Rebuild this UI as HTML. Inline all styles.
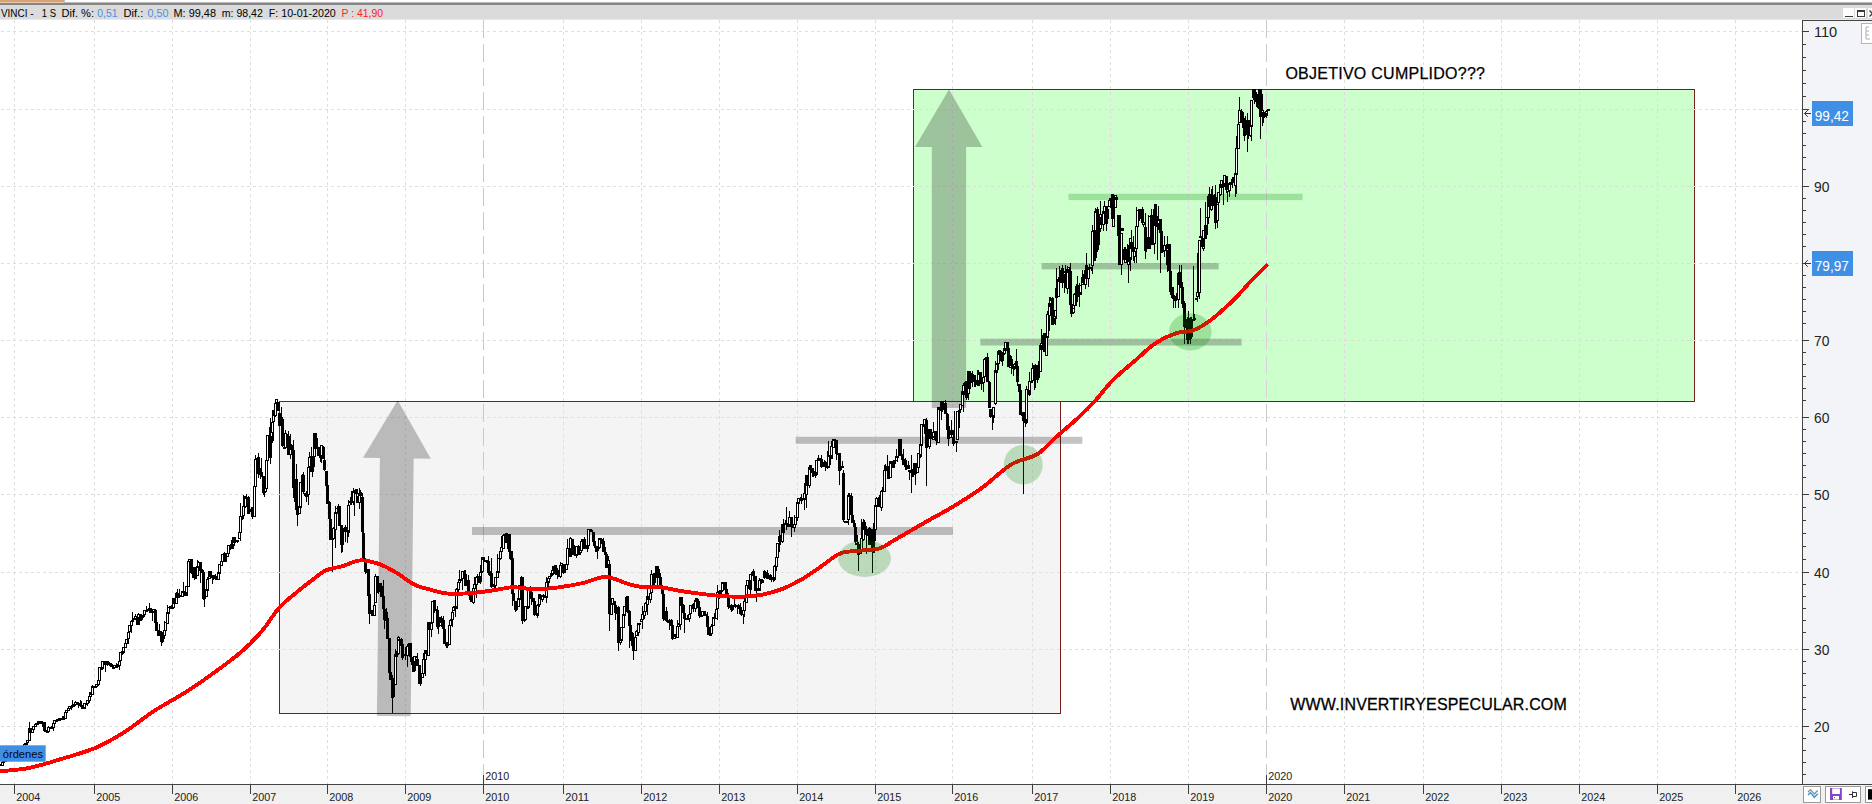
<!DOCTYPE html>
<html><head><meta charset="utf-8"><title>VINCI</title>
<style>
html,body{margin:0;padding:0;background:#fff;}
body{width:1872px;height:804px;overflow:hidden;font-family:"Liberation Sans",sans-serif;}
svg{display:block;position:absolute;left:0;top:0;}
text{white-space:pre;}
</style></head><body>
<svg width="1872" height="804" viewBox="0 0 1872 804" shape-rendering="auto">
<defs>
<clipPath id="cg"><rect x="914" y="90" width="780" height="311"/></clipPath>
<clipPath id="cp"><rect x="0" y="20" width="1802" height="764"/></clipPath>
<linearGradient id="tg" x1="0" y1="0" x2="0" y2="1"><stop offset="0" stop-color="#8c8c8c"/><stop offset="1" stop-color="#a9a9a9"/></linearGradient>
</defs>
<rect x="0" y="0" width="1872" height="804" fill="#ffffff"/>
<rect x="0" y="0" width="1872" height="2" fill="#ffffff"/>
<rect x="0" y="0" width="64" height="2.6" fill="#d9a273"/>
<rect x="64" y="0" width="1" height="2" fill="#c0c0c0"/>
<rect x="64" y="2" width="1872" height="1" fill="#b9b9b9"/>
<rect x="0" y="3" width="1872" height="2" fill="#868686"/>
<rect x="0" y="5" width="1872" height="14.6" fill="#dbdbdb"/>
<rect x="279.5" y="401.5" width="781" height="312" fill="#f4f4f4" stroke="#771d1d" stroke-width="1" shape-rendering="crispEdges"/>
<rect x="913.5" y="89.5" width="781" height="312" fill="#ccffcc" stroke="#771d1d" stroke-width="1" shape-rendering="crispEdges"/>
<g fill="none" shape-rendering="crispEdges"><path d="M14.5 20V784M94.5 20V784M172.5 20V784M250.5 20V784M327.5 20V784M405.5 20V784M563.5 20V784M641.5 20V784M719.5 20V784M797.5 20V784M875.5 20V784M952.5 20V784M1032.5 20V784M1110.5 20V784M1188.5 20V784M1344.5 20V784M1423.5 20V784M1501.5 20V784M1579.5 20V784M1657.5 20V784M1735.5 20V784" stroke="#dedede" stroke-width="1" stroke-dasharray="3 3"/><path d="M0 31.5H1802M0 109.5H1802M0 186.5H1802M0 263.5H1802M0 340.5H1802M0 417.5H1802M0 494.5H1802M0 572.5H1802M0 649.5H1802M0 726.5H1802" stroke="#dedede" stroke-width="1" stroke-dasharray="3 3" stroke-dashoffset="5"/><path d="M483.5 20V775M1266.5 20V775" stroke="#cacaca" stroke-width="1" stroke-dasharray="17.6 6.4" stroke-dashoffset="0"/></g>
<g fill="none" shape-rendering="crispEdges" clip-path="url(#cg)"><path d="M14.5 20V784M94.5 20V784M172.5 20V784M250.5 20V784M327.5 20V784M405.5 20V784M563.5 20V784M641.5 20V784M719.5 20V784M797.5 20V784M875.5 20V784M952.5 20V784M1032.5 20V784M1110.5 20V784M1188.5 20V784M1344.5 20V784M1423.5 20V784M1501.5 20V784M1579.5 20V784M1657.5 20V784M1735.5 20V784" stroke="#e3d9e3" stroke-width="1" stroke-dasharray="3 3"/><path d="M0 31.5H1802M0 109.5H1802M0 186.5H1802M0 263.5H1802M0 340.5H1802M0 417.5H1802M0 494.5H1802M0 572.5H1802M0 649.5H1802M0 726.5H1802" stroke="#e3d9e3" stroke-width="1" stroke-dasharray="3 3" stroke-dashoffset="5"/><path d="M483.5 20V775M1266.5 20V775" stroke="#ddd0dd" stroke-width="1" stroke-dasharray="17.6 6.4" stroke-dashoffset="0"/></g>
<g clip-path="url(#cp)">
<polygon points="397.7,400.3 430.8,458.7 413.7,458.5 410.7,716.2 376.9,716 379.9,458 363,457.7" fill="rgba(0,0,0,0.237)"/>
<polygon points="949,89.5 982.4,147 966.1,147 966.1,408 931.8,408 931.8,147 915,147" fill="rgba(0,0,0,0.237)"/>
<rect x="472" y="527" width="481" height="8" fill="rgba(0,0,0,0.237)"/>
<rect x="795.7" y="436.8" width="286.6" height="7" fill="rgba(0,0,0,0.237)"/>
<rect x="980.4" y="338.7" width="261.2" height="6.8" fill="rgba(0,0,0,0.237)"/>
<rect x="1041.6" y="263" width="177" height="6.4" fill="rgba(0,0,0,0.237)"/>
<rect x="1068.4" y="193.7" width="234.3" height="6.4" fill="rgba(0,128,0,0.23)"/>
</g>
<g clip-path="url(#cp)">
<g shape-rendering="crispEdges">
<path d="M0.5 764.2V765.4M2.5 761.9V765.4M3.5 760.7V762.4M5.5 759.7V761.5M6.5 758V760.2M8.5 757.4V759M9.5 756.5V758.1M11.5 755V757.4M12.5 753.2V756.4M14.5 752.3V755.1M15.5 751.5V753.1M17.5 750.2V752.5M18.5 749.3V752.1M20.5 747.6V750M21.5 746.7V748.9M23.5 745.8V747.6M24.5 743V746.6M26.5 741.8V744.9M27.5 739.7V743.3M29.5 722V740.7M30.5 728.2V732.8M32.5 729.3V732.6M33.5 725.9V729.3M35.5 724.3V726.8M36.5 723V724.4M38.5 721.4V725.4M39.5 721.7V722.3M41.5 720.7V723M42.5 722.4V726.6M44.5 722.2V731M45.5 729.7V731.8M47.5 731.1V732M48.5 725.6V731.9M50.5 727.4V728.6M51.5 725.6V728.9M53.5 722.8V730.5M54.5 720.3V723.7M56.5 719.8V721.3M57.5 719.2V720.8M59.5 717.6V720.4M60.5 717.9V720.1M62.5 716V720M63.5 716.2V718.8M65.5 711.2V719.4M66.5 709.9V712.8M68.5 707.8V710.8M69.5 706.5V710.1M71.5 705.2V710M72.5 700V707.2M74.5 703.9V706.5M75.5 701.4V705.2M77.5 702.1V704.4M78.5 703.2V708.4M80.5 699.9V707.1M81.5 700.7V709.2M83.5 704.2V709.3M84.5 703.4V709M86.5 703.1V704.2M87.5 700.4V705.7M89.5 691.9V703.4M90.5 692.4V697M92.5 685V695.3M93.5 686.3V690.1M95.5 685.7V687.2M96.5 684.5V686.7M98.5 680.2V685.7M99.5 667.4V680.7M101.5 666.4V670.3M102.5 660.8V670.4M104.5 661.1V661.8M105.5 661V672M107.5 660.8V665.7M108.5 660.8V665.4M110.5 663.1V665.3M111.5 662.7V667.1M113.5 665.1V667.8M114.5 665.2V668.7M116.5 663.2V668M117.5 663.9V667.7M119.5 656.9V669.6M120.5 651.9V661.3M122.5 650.2V654.5M123.5 647.3V652.5M125.5 643.2V648.3M126.5 638.8V646.1M128.5 632.6V644.3M129.5 624.6V632.2M131.5 621.5V632.7M132.5 612.2V621.7M134.5 617.7V620M135.5 613.9V619.4M137.5 616V624.9M138.5 612.7V624.6M140.5 614.3V620.7M141.5 615.9V620.2M143.5 609.5V617.8M144.5 609.6V615M146.5 605.7V611.4M147.5 608.7V609.7M149.5 603.2V610.9M150.5 608.6V612.9M152.5 610.1V620.5M153.5 608.8V612M155.5 609.4V623.3M156.5 621.2V631.3M158.5 629.6V636M159.5 623.8V636.1M161.5 631V646M162.5 633.5V643.2M164.5 620.6V639M165.5 622.5V630.5M167.5 604.7V624.3M168.5 606.6V613.3M170.5 606.5V607.4M171.5 605.2V608.7M173.5 598V608.7M174.5 598.5V603.5M176.5 592.3V603.6M177.5 589.1V597.7M179.5 588.5V597.8M180.5 594.8V596.8M182.5 590.9V596.3M183.5 582.1V592.8M185.5 591.3V595.7M186.5 585.7V596.3M188.5 562.8V587.1M189.5 561.3V561.5M191.5 559.4V574M192.5 564.7V577.8M194.5 566.9V579.8M195.5 574.8V578.3M197.5 560.2V575.7M198.5 560.5V567.3M200.5 562.8V583.1M201.5 568.9V572.8M203.5 570.3V599.5M204.5 596.1V606.5M206.5 589.1V596.6M207.5 577.1V590.7M209.5 570.8V579.2M210.5 571V576.7M212.5 576.1V583.8M213.5 575.4V579.6M215.5 574.4V580.4M216.5 575.9V580.2M218.5 563.5V580.1M219.5 564.2V578.4M221.5 560.3V565.7M222.5 553.8V562.3M224.5 551.5V556M225.5 553.8V562.4M227.5 552.2V557M228.5 545.5V554.4M230.5 544.4V549.9M231.5 540.1V548.6M233.5 537.3V548.5M234.5 537.5V545.7M236.5 540.6V541.5M237.5 539.9V542.7M239.5 531.9V539.3M240.5 502.6V540.9M242.5 514.8V519.9M243.5 494.7V517.5M245.5 496.1V507.7M246.5 494.4V502.3M248.5 495.9V513.6M249.5 508.9V512.9M251.5 507.3V512.6M252.5 507.2V519.4M254.5 480.8V516.4M255.5 455.1V491.9M257.5 457.3V460.9M258.5 453.3V477.6M260.5 468V478.9M261.5 457.6V477M263.5 476.3V495.2M264.5 491V496.7M266.5 459.2V491.5M267.5 435.6V476.3M269.5 427V456.5M270.5 418V463.5M272.5 409.5V442.7M273.5 409.5V440.9M275.5 400.3V416.5M276.5 399V408.4M278.5 405V410.5M279.5 412.5V425.6M281.5 406.5V424.4M282.5 416.7V447.2M284.5 445.6V448.5M285.5 430.4V447.4M287.5 434.2V436.7M288.5 431.3V455M290.5 434.2V458.5M291.5 444.1V452.8M293.5 440.4V497.7M294.5 479.1V501.9M296.5 463.7V511.7M297.5 507.7V525.5M299.5 506.1V513.7M300.5 481.7V508.2M302.5 474.2V489.9M303.5 472V493.7M305.5 493.3V495.7M306.5 491V502.3M308.5 467V505.2M309.5 451.6V474.9M311.5 447.3V472.3M312.5 455.8V477.4M314.5 438V466.9M315.5 435V455.6M317.5 438V451.9M318.5 446.9V455.4M320.5 450.7V461.6M321.5 445.5V463.3M323.5 445.6V459M324.5 452.7V470.8M326.5 471.5V486.8M327.5 485.6V503.7M329.5 501.1V518.5M330.5 517.8V540.2M332.5 537.9V572M333.5 527.4V539.7M335.5 506.2V548M336.5 507.7V524.7M338.5 503.5V509M339.5 505.9V526.1M341.5 524.7V552.6M342.5 524.8V551.8M344.5 527V532.3M345.5 524.5V542M347.5 526.4V542.7M348.5 499.8V537M350.5 497.2V505.4M351.5 490.7V504.6M353.5 488.4V505.2M354.5 490.2V515.9M356.5 492.9V498.4M357.5 495.7V503M359.5 487.5V508.6M360.5 490.2V502M362.5 492.9V532.6M363.5 523.9V560.3M365.5 557.6V573.6M366.5 570V573.1M368.5 569.2V599.1M369.5 591.1V624M371.5 610.3V614.1M372.5 610V616M374.5 595.6V616.3M375.5 573.7V603M377.5 575.9V592.5M378.5 582.6V594M380.5 583.4V591.6M381.5 585.8V596.6M383.5 579.7V615.6M384.5 608.5V629.4M386.5 608.3V620.8M387.5 611.8V638.3M389.5 638.1V672.3M390.5 664.4V679.5M392.5 675.3V712.5M393.5 684.8V697.2M395.5 649.3V685.1M396.5 651.1V656.7M398.5 636.3V654.9M399.5 638.7V646M401.5 637.9V645.3M402.5 639.1V659.7M404.5 654.3V655.9M405.5 647.1V659.8M407.5 645V667.2M408.5 642.6V645.7M410.5 643.3V658.1M411.5 656.7V664.8M413.5 657.5V672M414.5 655.8V671.2M416.5 656.4V658M417.5 653.1V666.1M419.5 665.2V683.9M420.5 677V685.7M422.5 669.7V678.2M423.5 652.7V673.5M425.5 650.6V676.1M426.5 649.7V653.7M428.5 622.3V655.3M429.5 621.8V629.3M431.5 623.3V636.5M432.5 603V622.6M434.5 603.8V613.4M435.5 602.8V611.2M437.5 605.5V628.8M438.5 614.2V634.2M440.5 617V625.9M441.5 616.1V626.5M443.5 616.3V633.6M444.5 627.3V643.3M446.5 642.5V648.3M447.5 642V647.8M449.5 625.5V644.7M450.5 618.5V628.1M452.5 606.9V626.6M453.5 605.8V610.8M455.5 605.3V617.3M456.5 587.5V608.4M458.5 579V592.1M459.5 569.5V582.6M461.5 579V580.4M462.5 570.6V590.4M464.5 569.5V575.2M465.5 569.5V586.2M467.5 580.2V586.5M468.5 575.3V595.5M470.5 591.2V601.7M471.5 598V602M473.5 586.3V603.7M474.5 576.9V588.9M476.5 577.2V597.6M477.5 574.1V577.6M479.5 571.7V582.5M480.5 564.8V584.1M482.5 557.2V573.2M483.5 558.3V560.5M485.5 560V561.4M486.5 559.7V563.3M488.5 556.1V573M489.5 570.8V576.2M491.5 557.5V588M492.5 573.4V587.4M494.5 583V589.1M495.5 577.5V587.7M497.5 553.7V577.7M498.5 558.5V572.7M500.5 550.8V560.4M501.5 535.5V551.4M503.5 533.5V549.3M504.5 534.2V538.3M506.5 534.9V542.6M507.5 535.5V548.8M509.5 534.2V555.7M510.5 551V559.9M512.5 551.2V606.3M513.5 593.5V600.8M515.5 601.5V611.8M516.5 603.2V610.8M518.5 598.1V606.9M519.5 584.8V600.3M521.5 576.2V586.2M522.5 576.7V623.6M524.5 619V622.1M525.5 605.5V619.9M527.5 605.7V608.8M528.5 587.3V607.9M530.5 586V597.6M531.5 592V605.1M533.5 597.6V603.2M534.5 597.8V615.7M536.5 613.5V614.5M537.5 604V618.2M539.5 594.2V607.4M540.5 595.2V599.3M542.5 596.2V602.3M543.5 594.1V597.7M545.5 596.2V597M546.5 576.9V602.6M548.5 576.8V588M549.5 576.1V583.4M551.5 572.9V577M552.5 566.4V574.4M554.5 565.9V573.7M555.5 564.8V574.8M557.5 568.2V578.9M558.5 573.9V576.8M560.5 562.2V577.9M561.5 562.8V566.8M563.5 564.2V573.9M564.5 568.1V572.5M566.5 563.8V569.5M567.5 539.3V567.7M569.5 547.4V556.8M570.5 536.6V556.6M572.5 539.6V546.9M573.5 543.9V554.3M575.5 550.7V554.5M576.5 545.5V557.8M578.5 545V554.9M579.5 551.7V554.4M581.5 540.4V553.1M582.5 538.8V540.5M584.5 537V548.8M585.5 545.6V547.6M587.5 540.4V551.7M588.5 529.6V547M590.5 532.3V532M591.5 531.8V531.5M593.5 532.1V541.9M594.5 538.4V548.2M596.5 545.7V552.2M597.5 548V558.8M599.5 537.8V548.5M600.5 537.8V540.7M602.5 539.2V547.8M603.5 537.7V551.5M605.5 546.8V562.1M606.5 554.1V567.9M608.5 555.7V567.9M609.5 564.3V631M611.5 600.2V615.1M612.5 598.3V605M614.5 600.8V604.9M615.5 603.2V620.2M617.5 607V614.6M618.5 606.1V651M620.5 638.2V644.5M621.5 626.6V640.9M623.5 614.5V627.4M624.5 606.6V618.7M626.5 599.8V607.8M627.5 597.1V612.8M629.5 610V647.5M630.5 624.6V640.6M632.5 632.2V645.6M633.5 644.8V660M635.5 634.8V650.3M636.5 629.9V636.2M638.5 622.9V636.3M639.5 623.5V624.5M641.5 619.2V622M642.5 606.2V628.9M644.5 608.4V619M645.5 602.4V614.7M647.5 584.6V614.8M648.5 595.5V604.5M650.5 590.9V602.6M651.5 570.3V593M653.5 573.8V584.5M654.5 573V585.9M656.5 565.8V578.1M657.5 567.3V586.4M659.5 569V577.7M660.5 577.2V588.5M662.5 585.2V593.5M663.5 587.1V620.5M665.5 611.5V620.3M666.5 606.9V621.7M668.5 620.3V622.4M669.5 619V629.6M671.5 619.4V632.6M672.5 624.9V639.8M674.5 634.1V638.5M675.5 634.6V636.9M677.5 619.9V638M678.5 623V627.8M680.5 598V630.4M681.5 597.8V609.4M683.5 604.1V612.3M684.5 612.4V632.5M686.5 617.6V619.8M687.5 615.4V619.5M689.5 613.2V622.3M690.5 605.5V616.1M692.5 604.3V606.2M693.5 602.6V611.5M695.5 600V612.4M696.5 597.6V602.7M698.5 598.7V608.4M699.5 600.6V618.4M701.5 614.7V617M702.5 611.2V615.9M704.5 611.6V615.1M705.5 613.7V616.2M707.5 611.7V628.1M708.5 626.2V634.9M710.5 633V634.9M711.5 624.1V634.4M713.5 616.8V625.8M714.5 613.4V619.1M716.5 605.8V619.4M717.5 584.7V620.4M719.5 590.6V598.6M720.5 590.2V595.6M722.5 582.5V592.3M723.5 582.2V586.5M725.5 583.3V590.2M726.5 589.6V597.1M728.5 592.9V608.5M729.5 605.7V606.5M731.5 604V611.7M732.5 606.3V610.8M734.5 599.3V607M735.5 604.4V607.5M737.5 605.3V613.7M738.5 603.8V608.6M740.5 602.8V614.9M741.5 611.1V616.4M743.5 602.6V624M744.5 596.3V616.5M746.5 580.7V602.3M747.5 579.7V588.6M749.5 579.8V589.4M750.5 574.5V593.9M752.5 571.3V575.4M753.5 568.5V581.1M755.5 576.2V590.8M756.5 580.4V602M758.5 588.4V590.9M759.5 578V590.6M761.5 579.1V583.5M762.5 579.6V582.8M764.5 569.7V579.4M765.5 570.8V577.4M767.5 569.9V578.7M768.5 573.4V578M770.5 573.5V580.2M771.5 576.9V582.2M773.5 572.3V582.3M774.5 565V580.6M776.5 556.9V571.4M777.5 542.9V560.7M779.5 530V552.4M780.5 534.6V544.6M782.5 524V542.6M783.5 519.1V532.7M785.5 520.2V525.2M786.5 506.9V529.7M788.5 524V526.5M789.5 510.9V526.9M791.5 516.8V536.6M792.5 525.9V527.9M794.5 514.6V531.7M795.5 517V525.2M797.5 499.8V520.6M798.5 497.8V504M800.5 497.1V500.3M801.5 493.8V504.1M803.5 498.3V500.1M804.5 483.2V509.8M806.5 475.2V507.6M807.5 475.4V485.3M809.5 466.1V488.4M810.5 465.6V469.6M812.5 468.1V477.1M813.5 471.1V476.6M815.5 472.4V477.7M816.5 460.4V474.6M818.5 455.1V460.5M819.5 457.7V460.9M821.5 455.2V468.3M822.5 461.1V466.6M824.5 459.5V463.7M825.5 461.3V471M827.5 451V468.8M828.5 440.6V468.2M830.5 455V465.3M831.5 441.3V458.9M833.5 442.2V448.2M834.5 440.6V442.2M836.5 440V459.5M837.5 449.4V454.8M839.5 453.1V484.8M840.5 466.1V469.4M842.5 460.8V468M843.5 470.1V522.4M845.5 521V521.6M846.5 520.8V521.6M848.5 493V524.5M849.5 493V496.7M851.5 493.1V514.4M852.5 515.6V523.3M854.5 519.9V526.8M855.5 525.6V545M857.5 535.1V544.3M858.5 542.3V571M860.5 548.2V553.6M861.5 519.4V553.7M863.5 519.3V541.2M864.5 520.4V530.7M866.5 526.4V553.9M867.5 528.9V535.6M869.5 527.2V544.8M870.5 528.7V544.4M872.5 528.6V573M873.5 523.2V553.2M875.5 504.9V541M876.5 496.8V507.1M878.5 497.2V506.9M879.5 495.1V506.3M881.5 490.8V511.1M882.5 487.4V492.7M884.5 465.1V491.7M885.5 463.9V474.9M887.5 455.3V469.8M888.5 466.6V479M890.5 461.1V477.6M891.5 461.9V467.3M893.5 461.2V468.1M894.5 459.9V463.8M896.5 449.2V460.4M897.5 455.9V462.2M899.5 442.5V456.3M900.5 439.5V455.4M902.5 454.4V459.9M903.5 449.2V464.8M905.5 458.1V470M906.5 459.8V469.5M908.5 461V468.8M909.5 469.9V480.3M911.5 455.3V493M912.5 468.7V477.2M914.5 462.8V475.1M915.5 462.7V485.3M917.5 467.5V473.2M918.5 453.2V471.8M920.5 444.2V457.9M921.5 424.8V456.9M923.5 426.2V426.9M924.5 422.1V433.5M926.5 418V485.5M927.5 439.8V446.6M929.5 429V449.3M930.5 428.9V440.8M932.5 436.4V437.6M933.5 421.5V439.4M935.5 430.8V438.9M936.5 436.3V445.4M938.5 406.8V442.5M939.5 408.2V409.3M941.5 401.4V419.6M942.5 402.8V411.5M944.5 401.4V414M945.5 400.4V413.7M947.5 413.1V430.2M948.5 426.2V445.5M950.5 431.2V437.6M951.5 419.6V434.8M953.5 430.3V446.1M954.5 410.6V443.7M956.5 440.7V452M957.5 410.8V439.5M959.5 410.4V427.8M960.5 403.8V412.5M962.5 386.6V405.8M963.5 382.5V412.1M965.5 381V386.1M966.5 380.8V400.4M968.5 373.6V399.5M969.5 373.1V389.5M971.5 373.3V382.6M972.5 371.2V386.8M974.5 374.7V386.8M975.5 379.6V386.8M977.5 369.6V385M978.5 370V385.8M980.5 372.1V383.8M981.5 379.3V389.6M983.5 374V391.5M984.5 358.4V376.5M986.5 357.8V360.9M987.5 353.3V381.5M989.5 380.6V408.3M990.5 408.9V418.4M992.5 411.9V430M993.5 407.3V423.2M995.5 361.4V405.2M996.5 363.2V376.7M998.5 350.8V370.4M999.5 350.5V355.2M1001.5 350.8V362.4M1002.5 353.5V366.3M1004.5 348V355.2M1005.5 346.1V352.7M1007.5 343.8V347.4M1008.5 347.7V366.9M1010.5 355.3V368.3M1011.5 356.3V373.7M1013.5 364.3V375.8M1014.5 362.7V370M1016.5 348.8V366.7M1017.5 365.8V385.7M1019.5 384.4V392.7M1020.5 386.5V414.8M1022.5 411.6V421M1023.5 412.3V493.7M1025.5 418.5V427M1026.5 386.4V423.9M1028.5 390.4V394.9M1029.5 371.6V395.5M1031.5 368.6V382.3M1032.5 363.3V382M1034.5 365V389.7M1035.5 364.3V387.5M1037.5 365.4V383.1M1038.5 361.1V378.4M1040.5 345.6V371.9M1041.5 329.1V349.4M1043.5 332.9V345.5M1044.5 332.8V352M1046.5 336.3V355.9M1047.5 311.4V337.4M1049.5 297.1V331.1M1050.5 297.2V306.4M1052.5 296.6V325M1053.5 317.4V324.1M1055.5 310.2V324.6M1056.5 268.1V318.8M1058.5 279.4V296.7M1059.5 265.7V282.5M1061.5 269.9V283.4M1062.5 265.2V287.5M1064.5 271.1V293.3M1065.5 265.2V287.5M1067.5 266.2V294.3M1068.5 266.9V286.5M1070.5 262.8V304.8M1071.5 283.6V317M1073.5 307.9V313.5M1074.5 292.5V310.7M1076.5 284.3V305.8M1077.5 275.7V302.4M1079.5 283V307.4M1080.5 285.3V295.2M1082.5 269.8V285.1M1083.5 274.3V285.1M1085.5 269.4V289.2M1086.5 253.3V280M1088.5 268.9V286.8M1089.5 264.3V277.8M1091.5 267.1V271.1M1092.5 224.9V273.5M1094.5 211.4V261.1M1095.5 208.4V258.7M1097.5 207V251.6M1098.5 226.5V249.7M1100.5 201V231.9M1101.5 214.6V224.8M1103.5 210.6V231.2M1104.5 200.6V213.9M1106.5 205.7V231.3M1107.5 208.6V219.1M1109.5 200V206.6M1110.5 200.6V207.5M1112.5 201V222.4M1113.5 203.2V227.3M1115.5 198.5V207.8M1116.5 200.6V202.1M1118.5 215.4V236.3M1119.5 215.3V265.1M1121.5 233.3V274.5M1122.5 228.5V230.9M1124.5 247.3V260.2M1125.5 247.3V263.1M1127.5 244V263.1M1128.5 245.3V283.2M1130.5 238.4V271.1M1131.5 230.4V260M1133.5 235.7V260.6M1134.5 251.6V262.9M1136.5 206.5V263.3M1137.5 210.4V226.3M1139.5 210.7V220.5M1140.5 208.8V218.1M1142.5 206.5V224.8M1143.5 221.4V227.3M1145.5 212.5V259.2M1146.5 238.6V251.7M1148.5 215V248.4M1149.5 215.8V248.7M1151.5 209.4V243M1152.5 234.1V244.4M1154.5 210V254M1155.5 213.4V225.5M1157.5 215.8V259.8M1158.5 206.1V229.5M1160.5 219.2V272.8M1161.5 230.3V253.2M1163.5 249.9V250.5M1164.5 235.7V257.2M1166.5 244.8V264.9M1167.5 235.7V271.5M1169.5 244.3V280.1M1170.5 269.6V294.6M1172.5 287.5V297.6M1173.5 293.1V308M1175.5 295.8V307.8M1176.5 292.9V299M1178.5 273.6V308M1179.5 265.3V292.5M1181.5 265.4V288.7M1182.5 283.9V308.2M1184.5 301.1V344.3M1185.5 304.7V327.7M1187.5 317.3V343.9M1188.5 310.9V344M1190.5 317V344.1M1191.5 317.1V339.4M1193.5 266.3V321M1194.5 313.8V318.7M1196.5 298.2V300.4M1197.5 253V301.5M1199.5 239.6V298.5M1200.5 207.8V238.3M1202.5 238V247.5M1203.5 229.8V250.6M1205.5 202.3V239.1M1206.5 217.3V235.7M1208.5 193.8V223.6M1209.5 186.7V211.6M1211.5 188.5V211.3M1212.5 186.3V205.3M1214.5 194V207.4M1215.5 184.8V228.8M1217.5 204.2V227.5M1218.5 192.1V204.7M1220.5 180.8V196.4M1221.5 180.4V190.8M1223.5 182.9V204.9M1224.5 174.6V186.6M1226.5 176.2V192.9M1227.5 188V202.4M1229.5 182.2V197.2M1230.5 181.7V190.8M1232.5 177.1V187.8M1233.5 177.1V182.3M1235.5 155.6V197M1236.5 135.6V193.8M1238.5 117.6V148.9M1239.5 96.6V122.4M1241.5 108.5V114.7M1242.5 111V127.6M1244.5 118.2V140.9M1245.5 115.7V134.9M1247.5 113V152M1248.5 120.2V138.5M1250.5 122V136.6M1251.5 99.7V140.9M1253.5 91.6V98.5M1254.5 92.1V103.9M1256.5 92.4V102.3M1257.5 93.8V108.2M1259.5 91.6V111.9M1260.5 92.1V139M1262.5 94.1V126M1263.5 112.1V122.5M1265.5 113.1V116.7M1266.5 110.1V117.7M1268.5 108.7V110.4" stroke="#000" stroke-width="1" fill="none"/>
<path d="M1.5 762.2H3.5V765.1H1.5ZM2.5 761.1H4.5V762.1H2.5ZM4.5 760H6.5V761.1H4.5ZM5.5 758.5H7.5V759.9H5.5ZM7.5 757.8H9.5V758.8H7.5ZM8.5 757H10.5V758H8.5ZM10.5 755.3H12.5V757H10.5ZM11.5 754H13.5V755.3H11.5ZM13.5 752.8H15.5V754.2H13.5ZM14.5 752.1H16.5V753.1H14.5ZM16.5 750.9H18.5V752H16.5ZM17.5 749.6H19.5V751H17.5ZM19.5 748.7H21.5V749.7H19.5ZM20.5 747H22.5V748.6H20.5ZM22.5 746.2H24.5V747.2H22.5ZM23.5 744.6H25.5V746.1H23.5ZM25.5 743H27.5V744.6H25.5ZM26.5 740.4H28.5V742.9H26.5ZM28.5 728.1H30.5V740.4H28.5ZM31.5 729.6H33.5V732.3H31.5ZM32.5 726.4H34.5V729H32.5ZM34.5 724.6H36.5V726.4H34.5ZM35.5 723.3H37.5V724.3H35.5ZM37.5 721.7H39.5V723.5H37.5ZM46.5 731.4H48.5V732.4H46.5ZM47.5 727.5H49.5V731.6H47.5ZM50.5 727.8H52.5V728.8H50.5ZM52.5 723.2H54.5V727.6H52.5ZM53.5 720.6H55.5V723.4H53.5ZM55.5 720.3H57.5V721.3H55.5ZM56.5 719.8H58.5V720.8H56.5ZM58.5 718.6H60.5V720.1H58.5ZM59.5 718.7H61.5V719.7H59.5ZM61.5 718H63.5V719H61.5ZM64.5 712.1H66.5V718.6H64.5ZM65.5 710.2H67.5V712.5H65.5ZM67.5 708.1H69.5V710.5H67.5ZM68.5 706.8H70.5V708H68.5ZM70.5 706.6H72.5V707.6H70.5ZM71.5 705.6H73.5V706.9H71.5ZM73.5 704.5H75.5V705.9H73.5ZM74.5 702H76.5V704.2H74.5ZM77.5 703.6H79.5V704.6H77.5ZM83.5 703.8H85.5V708.6H83.5ZM85.5 703.7H87.5V704.7H85.5ZM86.5 700.9H88.5V703.8H86.5ZM88.5 696.6H90.5V700.8H88.5ZM89.5 694.1H91.5V696.7H89.5ZM91.5 686.5H93.5V694.6H91.5ZM92.5 686.7H94.5V687.7H92.5ZM94.5 686.2H96.5V687.2H94.5ZM95.5 684.8H97.5V686.2H95.5ZM97.5 680.5H99.5V684.7H97.5ZM98.5 667.8H100.5V680.4H98.5ZM101.5 661.5H103.5V668.1H101.5ZM106.5 661.9H108.5V663.7H106.5ZM113.5 665.5H115.5V667H113.5ZM116.5 665.8H118.5V666.8H116.5ZM118.5 661.4H120.5V665.9H118.5ZM119.5 652.2H121.5V660.7H119.5ZM121.5 651.8H123.5V653.2H121.5ZM122.5 647.6H124.5V652H122.5ZM124.5 643.5H126.5V647.3H124.5ZM125.5 639.1H127.5V643.3H125.5ZM127.5 632.9H129.5V638.9H127.5ZM128.5 625.4H130.5V631.5H128.5ZM130.5 621.8H132.5V625.5H130.5ZM131.5 620.3H133.5V621.4H131.5ZM133.5 618H135.5V619.7H133.5ZM134.5 616.9H136.5V618.7H134.5ZM137.5 614.3H139.5V624.1H137.5ZM140.5 616.3H142.5V619.9H140.5ZM142.5 615.1H144.5V616.7H142.5ZM143.5 610.3H145.5V614.7H143.5ZM145.5 610.6H147.5V611.6H145.5ZM146.5 609H148.5V610H146.5ZM148.5 608H150.5V609.1H148.5ZM151.5 611.6H153.5V612.8H151.5ZM152.5 609.1H154.5V611.7H152.5ZM158.5 631.9H160.5V635.3H158.5ZM161.5 635.8H163.5V641.6H161.5ZM163.5 630H165.5V635.2H163.5ZM164.5 622.8H166.5V630H164.5ZM166.5 612.9H168.5V623.3H166.5ZM167.5 607.6H169.5V613H167.5ZM169.5 606.8H171.5V607.8H169.5ZM172.5 598.7H174.5V607.1H172.5ZM175.5 593.3H177.5V603.3H175.5ZM178.5 595.7H180.5V596.7H178.5ZM181.5 591.2H183.5V596H181.5ZM185.5 586H187.5V595.4H185.5ZM187.5 561.1H189.5V586.5H187.5ZM188.5 559.4H190.5V561.2H188.5ZM191.5 567.5H193.5V572.5H191.5ZM194.5 575.3H196.5V578H194.5ZM196.5 566.8H198.5V575H196.5ZM197.5 562.4H199.5V567H197.5ZM203.5 596.6H205.5V598.4H203.5ZM205.5 589.7H207.5V596.3H205.5ZM206.5 579.5H208.5V590.2H206.5ZM208.5 571.7H210.5V578.9H208.5ZM217.5 572.9H219.5V579.8H217.5ZM218.5 564.5H220.5V573.4H218.5ZM220.5 561.5H222.5V565.4H220.5ZM221.5 554.9H223.5V561.6H221.5ZM226.5 553.7H228.5V556.7H226.5ZM227.5 545.8H229.5V553.8H227.5ZM230.5 544.8H232.5V548.2H230.5ZM232.5 537.6H234.5V544.8H232.5ZM238.5 532.2H240.5V538.4H238.5ZM239.5 516.8H241.5V532.8H239.5ZM241.5 517.6H243.5V518.6H241.5ZM242.5 506.9H244.5V515.7H242.5ZM244.5 496.4H246.5V506H244.5ZM248.5 509.2H250.5V511.9H248.5ZM253.5 486.1H255.5V516.1H253.5ZM254.5 459.5H256.5V486.1H254.5ZM256.5 458.6H258.5V460.6H256.5ZM263.5 491.4H265.5V492.4H263.5ZM265.5 460.6H267.5V488.7H265.5ZM266.5 435.9H268.5V460.4H266.5ZM269.5 436.8H271.5V457.2H269.5ZM271.5 422.9H273.5V432.9H271.5ZM272.5 415.5H274.5V421.6H272.5ZM274.5 403.7H276.5V415.8H274.5ZM275.5 399.7H277.5V402.8H275.5ZM280.5 419.5H282.5V422.7H280.5ZM283.5 447.4H285.5V448.4H283.5ZM284.5 433.3H286.5V447.1H284.5ZM289.5 445.5H291.5V454.7H289.5ZM293.5 479.4H295.5V486.5H293.5ZM298.5 506.8H300.5V513.4H298.5ZM299.5 482H301.5V507.5H299.5ZM301.5 475.2H303.5V482.7H301.5ZM304.5 493.9H306.5V495.4H304.5ZM305.5 493.8H307.5V496.5H305.5ZM307.5 467.4H309.5V494.5H307.5ZM308.5 457H310.5V466.2H308.5ZM311.5 456.1H313.5V471.5H311.5ZM313.5 433.8H315.5V456.5H313.5ZM320.5 445.8H322.5V456H320.5ZM331.5 538.2H333.5V539.2H331.5ZM332.5 528.8H334.5V538.2H332.5ZM334.5 512.1H336.5V529H334.5ZM335.5 508H337.5V513.5H335.5ZM337.5 506.4H339.5V507.8H337.5ZM341.5 530.7H343.5V544.7H341.5ZM343.5 528.2H345.5V531.6H343.5ZM347.5 505.1H349.5V532.2H347.5ZM349.5 501.5H351.5V502.5H349.5ZM352.5 491.1H354.5V501.2H352.5ZM353.5 491.1H355.5V492.1H353.5ZM358.5 493.8H360.5V502.8H358.5ZM365.5 570.6H367.5V572.8H365.5ZM370.5 610.8H372.5V613.8H370.5ZM373.5 605.1H375.5V615.9H373.5ZM374.5 576H376.5V602.7H374.5ZM377.5 584.2H379.5V591.9H377.5ZM385.5 618.2H387.5V620.5H385.5ZM392.5 685.6H394.5V696.9H392.5ZM394.5 654.8H396.5V684.8H394.5ZM395.5 653H397.5V656.1H395.5ZM397.5 637.5H399.5V653.4H397.5ZM398.5 639.2H400.5V640.3H398.5ZM403.5 654.6H405.5V655.6H403.5ZM406.5 646.5H408.5V655.1H406.5ZM407.5 644.1H409.5V645.2H407.5ZM413.5 656.8H415.5V670.7H413.5ZM419.5 677.3H421.5V683.1H419.5ZM421.5 673.3H423.5V677.7H421.5ZM422.5 659H424.5V673H422.5ZM424.5 650.9H426.5V659H424.5ZM427.5 622.6H429.5V655H427.5ZM430.5 623.8H432.5V629.2H430.5ZM431.5 601.5H433.5V622H431.5ZM434.5 609.6H436.5V610.6H434.5ZM437.5 624.7H439.5V626.8H437.5ZM439.5 617.3H441.5V625.3H439.5ZM446.5 644.8H448.5V645.8H446.5ZM448.5 625.8H450.5V644.4H448.5ZM449.5 620.1H451.5V625.1H449.5ZM451.5 612H453.5V619.7H451.5ZM452.5 607.3H454.5V610.5H452.5ZM455.5 589.9H457.5V608.1H455.5ZM457.5 582.5H459.5V589.6H457.5ZM458.5 580.6H460.5V582.3H458.5ZM460.5 579.3H462.5V580.3H460.5ZM461.5 571.6H463.5V578.9H461.5ZM466.5 580.7H468.5V585.5H466.5ZM472.5 588.5H474.5V602.8H472.5ZM473.5 584.1H475.5V588.6H473.5ZM475.5 577.6H477.5V584.6H475.5ZM476.5 576.9H478.5V577.9H476.5ZM479.5 572.2H481.5V581.7H479.5ZM481.5 557.5H483.5V571.7H481.5ZM485.5 560.2H487.5V561.2H485.5ZM491.5 584.9H493.5V585.9H491.5ZM494.5 577.8H496.5V585.5H494.5ZM496.5 571.4H498.5V577.4H496.5ZM497.5 558.8H499.5V572.4H497.5ZM499.5 551.8H501.5V558.3H499.5ZM500.5 547.4H502.5V551H500.5ZM502.5 535H504.5V548.2H502.5ZM503.5 534.2H505.5V535.2H503.5ZM506.5 534.4H508.5V542.5H506.5ZM515.5 606.9H517.5V609.9H515.5ZM517.5 598.4H519.5V606.3H517.5ZM518.5 585.2H520.5V599H518.5ZM520.5 577.6H522.5V585.4H520.5ZM523.5 619.3H525.5V620.6H523.5ZM524.5 606.6H526.5V619.6H524.5ZM526.5 606.4H528.5V608.3H526.5ZM527.5 588.1H529.5V607.2H527.5ZM536.5 605.1H538.5V615.2H536.5ZM538.5 594.5H540.5V604.6H538.5ZM541.5 596.6H543.5V599.4H541.5ZM544.5 596.5H546.5V597.5H544.5ZM545.5 582.1H547.5V597H545.5ZM547.5 578.2H549.5V581.7H547.5ZM548.5 576.4H550.5V578.9H548.5ZM550.5 573.2H552.5V575.4H550.5ZM551.5 570.3H553.5V574.1H551.5ZM553.5 566.2H555.5V571.3H553.5ZM559.5 565.4H561.5V576.1H559.5ZM560.5 563.5H562.5V565.9H560.5ZM563.5 568.4H565.5V572.2H563.5ZM565.5 564.1H567.5V569.1H565.5ZM566.5 548.7H568.5V564.5H566.5ZM569.5 538.5H571.5V556.3H569.5ZM574.5 554.1H576.5V555.1H574.5ZM575.5 546.1H577.5V555H575.5ZM578.5 552H580.5V554.1H578.5ZM580.5 541.4H582.5V550.8H580.5ZM581.5 539.1H583.5V540.2H581.5ZM587.5 529.5H589.5V545.7H587.5ZM596.5 548.3H598.5V550.6H596.5ZM598.5 538.1H600.5V547.9H598.5ZM607.5 560.5H609.5V566.9H607.5ZM610.5 604.3H612.5V614.5H610.5ZM611.5 598.6H613.5V603.7H611.5ZM616.5 607.4H618.5V613.8H616.5ZM619.5 639.3H621.5V642.8H619.5ZM620.5 627.6H622.5V640H620.5ZM622.5 614.8H624.5V627.1H622.5ZM623.5 606.9H625.5V615.1H623.5ZM625.5 597H627.5V607.5H625.5ZM634.5 637.2H636.5V650H634.5ZM635.5 631.7H637.5V635.9H635.5ZM637.5 623.4H639.5V632.3H637.5ZM640.5 619.6H642.5V621.7H640.5ZM641.5 614.4H643.5V619.9H641.5ZM643.5 611.9H645.5V615.2H643.5ZM644.5 603.6H646.5V611.7H644.5ZM646.5 596.2H648.5V604.6H646.5ZM649.5 593.5H651.5V599.9H649.5ZM650.5 574.9H652.5V592.7H650.5ZM653.5 573.3H655.5V582H653.5ZM655.5 566.1H657.5V572.4H655.5ZM664.5 611.8H666.5V619.6H664.5ZM668.5 620H670.5V622.2H668.5ZM673.5 634.5H675.5V638.2H673.5ZM676.5 626.2H678.5V637.7H676.5ZM677.5 624.7H679.5V626.5H677.5ZM679.5 597.3H681.5V624.8H679.5ZM688.5 614.1H690.5V618.5H688.5ZM689.5 605.8H691.5V613.8H689.5ZM691.5 605.4H693.5V606.4H691.5ZM694.5 600.3H696.5V608.6H694.5ZM701.5 611.7H703.5V615.6H701.5ZM709.5 634H711.5V635H709.5ZM710.5 626H712.5V633.9H710.5ZM712.5 617.4H714.5V625.5H712.5ZM715.5 609.1H717.5V618.2H715.5ZM716.5 592.1H718.5V608.7H716.5ZM719.5 590.5H721.5V593.2H719.5ZM721.5 582.2H723.5V590.7H721.5ZM728.5 606H730.5V607H728.5ZM731.5 606.6H733.5V609H731.5ZM733.5 605.5H735.5V606.7H733.5ZM742.5 610.6H744.5V614.6H742.5ZM743.5 601.7H745.5V610.3H743.5ZM745.5 585.3H747.5V602H745.5ZM746.5 580.2H748.5V585.2H746.5ZM749.5 574.8H751.5V589H749.5ZM751.5 572.5H753.5V574.7H751.5ZM755.5 589.5H757.5V590.5H755.5ZM758.5 580.5H760.5V590.3H758.5ZM760.5 579.4H762.5V581.9H760.5ZM763.5 571.4H765.5V577.4H763.5ZM766.5 576.3H768.5V578.4H766.5ZM767.5 575.3H769.5V577.5H767.5ZM770.5 577.2H772.5V579.9H770.5ZM773.5 566.4H775.5V579.6H773.5ZM775.5 557.6H777.5V566.2H775.5ZM776.5 543.2H778.5V557.7H776.5ZM778.5 536.2H780.5V541.8H778.5ZM781.5 524.7H783.5V541.4H781.5ZM785.5 523.1H787.5V524.7H785.5ZM788.5 517.6H790.5V526.6H788.5ZM793.5 524.6H795.5V527.4H793.5ZM794.5 517.3H796.5V524.9H794.5ZM796.5 502.6H798.5V517.5H796.5ZM797.5 498.3H799.5V503.7H797.5ZM799.5 498.4H801.5V499.4H799.5ZM802.5 498.7H804.5V499.8H802.5ZM803.5 493.3H805.5V499.6H803.5ZM805.5 475.5H807.5V494H805.5ZM808.5 467.6H810.5V485.5H808.5ZM814.5 472.7H816.5V475H814.5ZM815.5 460.7H817.5V474H815.5ZM817.5 458.5H819.5V460.1H817.5ZM818.5 458H820.5V459H818.5ZM821.5 464.3H823.5V466.3H821.5ZM823.5 462.1H825.5V463.4H823.5ZM827.5 456H829.5V467.4H827.5ZM830.5 446H832.5V458.6H830.5ZM832.5 439.2H834.5V447H832.5ZM839.5 466.8H841.5V469.1H839.5ZM841.5 466.3H843.5V467.3H841.5ZM844.5 521.3H846.5V522.3H844.5ZM845.5 521.1H847.5V522.1H845.5ZM847.5 495.8H849.5V519H847.5ZM859.5 550.7H861.5V552.8H859.5ZM860.5 538.9H862.5V551.5H860.5ZM862.5 522.3H864.5V539.8H862.5ZM866.5 529.3H868.5V535.3H866.5ZM869.5 530H871.5V544.1H869.5ZM872.5 530.2H874.5V552.8H872.5ZM874.5 505.8H876.5V529.8H874.5ZM875.5 498.4H877.5V506.8H875.5ZM880.5 491.1H882.5V507.2H880.5ZM881.5 490.9H883.5V491.9H881.5ZM883.5 470.4H885.5V491.3H883.5ZM886.5 466.7H888.5V469.4H886.5ZM889.5 461.6H891.5V477.3H889.5ZM890.5 462.2H892.5V463.2H890.5ZM895.5 456.9H897.5V460.1H895.5ZM896.5 456.2H898.5V457.8H896.5ZM898.5 439.7H900.5V455H898.5ZM905.5 465.3H907.5V466.4H905.5ZM910.5 471.5H912.5V472.5H910.5ZM913.5 463.1H915.5V474.8H913.5ZM916.5 467.8H918.5V472.9H916.5ZM917.5 453.5H919.5V467.3H917.5ZM919.5 444.5H921.5V454.6H919.5ZM920.5 424.4H922.5V445.7H920.5ZM923.5 419.8H925.5V426.3H923.5ZM928.5 429.7H930.5V446.3H928.5ZM931.5 436.9H933.5V437.9H931.5ZM932.5 432.5H934.5V439.1H932.5ZM937.5 407.8H939.5V442.2H937.5ZM938.5 408.9H940.5V409.9H938.5ZM940.5 401.6H942.5V410.2H940.5ZM943.5 401.7H945.5V408.3H943.5ZM949.5 431.5H951.5V437.3H949.5ZM953.5 441.3H955.5V442.9H953.5ZM955.5 441H957.5V442H955.5ZM956.5 411.5H958.5V439.2H956.5ZM959.5 404.8H961.5V409.8H959.5ZM961.5 391.1H963.5V405.5H961.5ZM962.5 385.6H964.5V394.5H962.5ZM964.5 382.1H966.5V385.8H964.5ZM967.5 371.5H969.5V393.3H967.5ZM970.5 374H972.5V378H970.5ZM974.5 381.1H976.5V382.2H974.5ZM977.5 374.8H979.5V385.5H977.5ZM980.5 381.4H982.5V383.1H980.5ZM982.5 377.2H984.5V382.5H982.5ZM983.5 359.4H985.5V376.2H983.5ZM985.5 357.1H987.5V358.3H985.5ZM992.5 407.6H994.5V417.6H992.5ZM994.5 370.7H996.5V403.8H994.5ZM995.5 364.3H997.5V372.5H995.5ZM997.5 351.1H999.5V363H997.5ZM1001.5 354.3H1003.5V360.4H1001.5ZM1003.5 348.3H1005.5V353.1H1003.5ZM1004.5 342.8H1006.5V350.2H1004.5ZM1009.5 360H1011.5V367.3H1009.5ZM1013.5 364.2H1015.5V368.8H1013.5ZM1021.5 414.8H1023.5V415.8H1021.5ZM1025.5 389.6H1027.5V422.3H1025.5ZM1028.5 381.1H1030.5V394.9H1028.5ZM1030.5 381.1H1032.5V382.1H1030.5ZM1031.5 368.6H1033.5V380.6H1031.5ZM1034.5 365H1036.5V374.1H1034.5ZM1037.5 370.2H1039.5V377.5H1037.5ZM1039.5 345.9H1041.5V371.6H1039.5ZM1040.5 343.3H1042.5V349.1H1040.5ZM1042.5 335.1H1044.5V344.8H1042.5ZM1045.5 336.6H1047.5V355.6H1045.5ZM1046.5 314H1048.5V337.1H1046.5ZM1048.5 303.2H1050.5V315.7H1048.5ZM1049.5 300.5H1051.5V306H1049.5ZM1052.5 318H1054.5V323.8H1052.5ZM1054.5 310.7H1056.5V316.8H1054.5ZM1057.5 279.7H1059.5V296.1H1057.5ZM1060.5 270.2H1062.5V282.6H1060.5ZM1063.5 272.5H1065.5V279.6H1063.5ZM1066.5 269.4H1068.5V288.8H1066.5ZM1067.5 267.2H1069.5V272.6H1067.5ZM1072.5 308.2H1074.5V312.6H1072.5ZM1073.5 294.3H1075.5V305.9H1073.5ZM1075.5 286.8H1077.5V294.5H1075.5ZM1078.5 292.8H1080.5V293.8H1078.5ZM1079.5 285.8H1081.5V294.9H1079.5ZM1081.5 277.7H1083.5V284.8H1081.5ZM1084.5 270.6H1086.5V284.1H1084.5ZM1087.5 269.5H1089.5V278H1087.5ZM1090.5 267.4H1092.5V268.4H1090.5ZM1091.5 231.1H1093.5V265.5H1091.5ZM1094.5 212H1096.5V257.9H1094.5ZM1097.5 226.8H1099.5V244.8H1097.5ZM1099.5 214.9H1101.5V228.7H1099.5ZM1102.5 211.9H1104.5V224.4H1102.5ZM1103.5 206.9H1105.5V213.6H1103.5ZM1106.5 209.2H1108.5V218.8H1106.5ZM1108.5 200.3H1110.5V206.1H1108.5ZM1109.5 198.1H1111.5V199.5H1109.5ZM1112.5 204.4H1114.5V226.3H1112.5ZM1114.5 195.9H1116.5V207.4H1114.5ZM1115.5 197.1H1117.5V199.3H1115.5ZM1117.5 215.7H1119.5V235.3H1117.5ZM1120.5 233.6H1122.5V264.8H1120.5ZM1124.5 249.8H1126.5V262.8H1124.5ZM1127.5 258.3H1129.5V264.3H1127.5ZM1129.5 238.7H1131.5V257.1H1129.5ZM1133.5 251.9H1135.5V256.2H1133.5ZM1135.5 226H1137.5V248.4H1135.5ZM1136.5 210.8H1138.5V226H1136.5ZM1139.5 209.1H1141.5V217.8H1139.5ZM1142.5 222.6H1144.5V224.7H1142.5ZM1145.5 238.9H1147.5V245.9H1145.5ZM1148.5 216.1H1150.5V248.4H1148.5ZM1153.5 209.1H1155.5V243.4H1153.5ZM1156.5 223.7H1158.5V226.2H1156.5ZM1157.5 220.6H1159.5V226.6H1157.5ZM1163.5 245H1165.5V250.9H1163.5ZM1166.5 244.8H1168.5V250.4H1166.5ZM1172.5 295.7H1174.5V298.9H1172.5ZM1175.5 298.4H1177.5V299.4H1175.5ZM1177.5 273.9H1179.5V299H1177.5ZM1184.5 319.9H1186.5V326.8H1184.5ZM1187.5 318.1H1189.5V339.3H1187.5ZM1190.5 320.1H1192.5V336.1H1190.5ZM1192.5 319.6H1194.5V320.7H1192.5ZM1193.5 318.1H1195.5V319.1H1193.5ZM1196.5 292.9H1198.5V296.1H1196.5ZM1198.5 240H1200.5V292H1198.5ZM1199.5 236.5H1201.5V237.9H1199.5ZM1202.5 230.1H1204.5V248H1202.5ZM1205.5 217.6H1207.5V234.5H1205.5ZM1207.5 196.6H1209.5V217.4H1207.5ZM1210.5 196.8H1212.5V209.7H1210.5ZM1213.5 197.8H1215.5V205.3H1213.5ZM1216.5 204.7H1218.5V220.5H1216.5ZM1217.5 192.4H1219.5V202.2H1217.5ZM1219.5 184.4H1221.5V194.6H1219.5ZM1220.5 180.7H1222.5V187.4H1220.5ZM1222.5 183.8H1224.5V185.5H1222.5ZM1223.5 175.8H1225.5V186.3H1223.5ZM1226.5 188.3H1228.5V191.7H1226.5ZM1228.5 183.4H1230.5V190.8H1228.5ZM1229.5 182H1231.5V184.6H1229.5ZM1231.5 179.4H1233.5V181.2H1231.5ZM1234.5 173.1H1236.5V185.8H1234.5ZM1235.5 148H1237.5V174.1H1235.5ZM1237.5 124.8H1239.5V148.6H1237.5ZM1238.5 110.2H1240.5V122.1H1238.5ZM1244.5 121.4H1246.5V134.4H1244.5ZM1249.5 125.7H1251.5V135.1H1249.5ZM1250.5 100.1H1252.5V126.6H1250.5ZM1252.5 89.7H1254.5V97.4H1252.5ZM1255.5 96.7H1257.5V101.5H1255.5ZM1258.5 89.7H1260.5V108.1H1258.5ZM1261.5 110.8H1263.5V115.7H1261.5ZM1264.5 113.4H1266.5V116.3H1264.5ZM1265.5 111.1H1267.5V115.8H1265.5Z" stroke="#000" stroke-width="1" fill="#fff"/>
<path d="M-0.5 764.7H1.5V765.7H-0.5ZM29.5 728.5H31.5V732.3H29.5ZM38.5 722H40.5V723H38.5ZM40.5 721.6H42.5V722.7H40.5ZM41.5 722.7H43.5V723.7H41.5ZM43.5 722.6H45.5V730.6H43.5ZM44.5 730.9H46.5V731.9H44.5ZM49.5 727.7H51.5V728.7H49.5ZM62.5 718.1H64.5V719.1H62.5ZM76.5 702.4H78.5V704.1H76.5ZM79.5 703.4H81.5V705.4H79.5ZM80.5 705.3H82.5V706.8H80.5ZM82.5 707.1H84.5V708.6H82.5ZM100.5 667.8H102.5V668.8H100.5ZM103.5 661.4H105.5V662.4H103.5ZM104.5 661.6H106.5V664.4H104.5ZM107.5 662.2H109.5V663.8H107.5ZM109.5 663.4H111.5V665H109.5ZM110.5 664.4H112.5V666.8H110.5ZM112.5 667.4H114.5V668.4H112.5ZM115.5 665.6H117.5V666.6H115.5ZM136.5 617.3H138.5V624.1H136.5ZM139.5 614.6H141.5V620.1H139.5ZM149.5 608.9H151.5V612.6H149.5ZM154.5 610.2H156.5V622.7H154.5ZM155.5 622.8H157.5V630.8H155.5ZM157.5 630.8H159.5V635.7H157.5ZM160.5 632H162.5V641.2H160.5ZM170.5 607.6H172.5V608.6H170.5ZM173.5 598.8H175.5V603.2H173.5ZM176.5 593.4H178.5V597.4H176.5ZM179.5 595.5H181.5V596.5H179.5ZM182.5 591.6H184.5V592.6H182.5ZM184.5 592.8H186.5V595.4H184.5ZM190.5 559.7H192.5V572.4H190.5ZM193.5 567.2H195.5V577.9H193.5ZM199.5 562.3H201.5V570.4H199.5ZM200.5 569.6H202.5V572.5H200.5ZM202.5 572.4H204.5V598.5H202.5ZM209.5 571.3H211.5V576.4H209.5ZM211.5 576.7H213.5V577.7H211.5ZM212.5 575.9H214.5V577.7H212.5ZM214.5 576.7H216.5V578.8H214.5ZM215.5 577.4H217.5V579.9H215.5ZM223.5 553.6H225.5V555.7H223.5ZM224.5 556.4H226.5V561.1H224.5ZM229.5 545.9H231.5V548.4H229.5ZM233.5 537.8H235.5V542.8H233.5ZM235.5 540.9H237.5V541.9H235.5ZM236.5 540.2H238.5V541.2H236.5ZM245.5 497.2H247.5V498.2H245.5ZM247.5 497.4H249.5V513.3H247.5ZM250.5 509H252.5V510.8H250.5ZM251.5 510.1H253.5V516.2H251.5ZM257.5 457.7H259.5V473.4H257.5ZM259.5 473.1H261.5V474.1H259.5ZM260.5 472.7H262.5V476.7H260.5ZM262.5 476.6H264.5V492.2H262.5ZM268.5 436H270.5V456.2H268.5ZM277.5 402H279.5V410.2H277.5ZM278.5 413.6H280.5V425.2H278.5ZM281.5 419.6H283.5V445.8H281.5ZM286.5 435.3H288.5V436.4H286.5ZM287.5 436.5H289.5V454.7H287.5ZM290.5 445.2H292.5V449.1H290.5ZM292.5 450.5H294.5V487.7H292.5ZM295.5 479.5H297.5V509.6H295.5ZM296.5 508H298.5V514.4H296.5ZM302.5 475.8H304.5V491.9H302.5ZM310.5 456.1H312.5V471.1H310.5ZM314.5 433.8H316.5V448.2H314.5ZM316.5 447.8H318.5V448.8H316.5ZM317.5 447.2H319.5V455.1H317.5ZM319.5 455H321.5V457.7H319.5ZM322.5 447.6H324.5V458.6H322.5ZM323.5 460.2H325.5V469.4H323.5ZM325.5 471.8H327.5V485.7H325.5ZM326.5 485.9H328.5V503.4H326.5ZM328.5 502.2H330.5V518.2H328.5ZM329.5 519.2H331.5V539.6H329.5ZM338.5 506.6H340.5V525.8H338.5ZM340.5 525H342.5V544.2H340.5ZM344.5 527.5H346.5V530.3H344.5ZM346.5 530.4H348.5V531.7H346.5ZM350.5 501.1H352.5V502.1H350.5ZM355.5 489H357.5V493.8H355.5ZM356.5 496H358.5V502.6H356.5ZM359.5 492.3H361.5V495.8H359.5ZM361.5 497.6H363.5V531.7H361.5ZM362.5 533.2H364.5V560H362.5ZM364.5 559.7H366.5V571.5H364.5ZM367.5 569.6H369.5V595.8H367.5ZM368.5 594.9H370.5V613.8H368.5ZM371.5 611H373.5V615.3H371.5ZM376.5 576.2H378.5V591.2H376.5ZM379.5 583.7H381.5V587.4H379.5ZM380.5 586.1H382.5V596.3H380.5ZM382.5 596H384.5V608H382.5ZM383.5 609.7H385.5V619.5H383.5ZM386.5 618.1H388.5V638H386.5ZM388.5 638.4H390.5V672H388.5ZM389.5 672.7H391.5V679.1H389.5ZM391.5 678.8H393.5V697.2H391.5ZM400.5 640.1H402.5V645H400.5ZM401.5 644H403.5V657H401.5ZM404.5 654.8H406.5V655.8H404.5ZM409.5 643.6H411.5V656.9H409.5ZM410.5 657H412.5V661.8H410.5ZM412.5 661.7H414.5V671.7H412.5ZM415.5 656.9H417.5V657.9H415.5ZM416.5 659.3H418.5V665.8H416.5ZM418.5 665.6H420.5V683.6H418.5ZM425.5 650.7H427.5V653.1H425.5ZM428.5 622.8H430.5V629H428.5ZM433.5 600.9H435.5V610.1H433.5ZM436.5 610.2H438.5V626.1H436.5ZM440.5 618.3H442.5V622.1H440.5ZM442.5 620.6H444.5V628.7H442.5ZM443.5 629.6H445.5V643H443.5ZM445.5 642.9H447.5V645.8H445.5ZM454.5 606.5H456.5V607.5H454.5ZM463.5 571.2H465.5V574.9H463.5ZM464.5 574.6H466.5V585.4H464.5ZM467.5 580.7H469.5V593.1H467.5ZM469.5 592.8H471.5V599.1H469.5ZM470.5 599.2H472.5V601.7H470.5ZM478.5 576.1H480.5V582.2H478.5ZM482.5 557.1H484.5V559.5H482.5ZM484.5 560.2H486.5V561.2H484.5ZM487.5 561.1H489.5V572.7H487.5ZM488.5 571.2H490.5V574.2H488.5ZM490.5 573.6H492.5V586H490.5ZM493.5 585.4H495.5V586.5H493.5ZM505.5 533.6H507.5V542H505.5ZM508.5 534.5H510.5V551.4H508.5ZM509.5 551.3H511.5V558.6H509.5ZM511.5 558.9H513.5V593.8H511.5ZM512.5 593.8H514.5V600.5H512.5ZM514.5 601.8H516.5V609.4H514.5ZM521.5 577.6H523.5V620.3H521.5ZM529.5 587.8H531.5V593H529.5ZM530.5 592.4H532.5V598.8H530.5ZM532.5 599.7H534.5V601.4H532.5ZM533.5 601.3H535.5V614.4H533.5ZM535.5 613.8H537.5V614.8H535.5ZM539.5 595.5H541.5V598.8H539.5ZM542.5 595.6H544.5V596.6H542.5ZM554.5 565.8H556.5V570.8H554.5ZM556.5 570.3H558.5V574.7H556.5ZM557.5 575H559.5V576.5H557.5ZM562.5 564.6H564.5V572.1H562.5ZM568.5 548.2H570.5V556.4H568.5ZM571.5 539.9H573.5V545.7H571.5ZM572.5 545.3H574.5V554H572.5ZM577.5 546.7H579.5V554.6H577.5ZM583.5 539.7H585.5V548.1H583.5ZM584.5 545.9H586.5V547.3H584.5ZM586.5 547H588.5V548H586.5ZM589.5 529.4H591.5V531.6H589.5ZM590.5 530.8H592.5V531.8H590.5ZM592.5 532.6H594.5V541.6H592.5ZM593.5 541H595.5V545.5H593.5ZM595.5 546.1H597.5V551.8H595.5ZM599.5 538.1H601.5V539.8H599.5ZM601.5 539.9H603.5V543.2H601.5ZM602.5 541.9H604.5V551.2H602.5ZM604.5 552.5H606.5V554.7H604.5ZM605.5 554.5H607.5V567.4H605.5ZM608.5 564.6H610.5V613.5H608.5ZM613.5 601.1H615.5V604.6H613.5ZM614.5 605.2H616.5V612.8H614.5ZM617.5 607.9H619.5V642.7H617.5ZM626.5 596.6H628.5V611.5H626.5ZM628.5 611.2H630.5V625.1H628.5ZM629.5 625.1H631.5V632.9H629.5ZM631.5 633.2H633.5V645.2H631.5ZM632.5 645.1H634.5V650.2H632.5ZM638.5 623.8H640.5V624.8H638.5ZM647.5 596.1H649.5V599H647.5ZM652.5 574.1H654.5V584.2H652.5ZM656.5 566.3H658.5V572.8H656.5ZM658.5 573.2H660.5V577.4H658.5ZM659.5 577.5H661.5V585.1H659.5ZM661.5 586.3H663.5V593.2H661.5ZM662.5 594.2H664.5V618.7H662.5ZM665.5 611.3H667.5V620.8H665.5ZM667.5 620.8H669.5V622.1H667.5ZM670.5 620.9H672.5V625.9H670.5ZM671.5 625.2H673.5V638.2H671.5ZM674.5 635.1H676.5V636.6H674.5ZM680.5 597.7H682.5V605.8H680.5ZM682.5 605.8H684.5V612H682.5ZM683.5 613.2H685.5V618.7H683.5ZM685.5 618.8H687.5V619.8H685.5ZM686.5 618.4H688.5V619.4H686.5ZM692.5 605.7H694.5V608.8H692.5ZM695.5 598.6H697.5V601.6H695.5ZM697.5 601H699.5V607.5H697.5ZM698.5 607.6H700.5V615.2H698.5ZM700.5 615.1H702.5V616.7H700.5ZM703.5 611.9H705.5V614.8H703.5ZM704.5 614H706.5V615.7H704.5ZM706.5 616H708.5V626.7H706.5ZM707.5 627.6H709.5V634.6H707.5ZM713.5 617.7H715.5V618.7H713.5ZM718.5 591.5H720.5V594.6H718.5ZM722.5 582.5H724.5V583.5H722.5ZM724.5 582.7H726.5V589.9H724.5ZM725.5 589.9H727.5V596.7H725.5ZM727.5 595.9H729.5V606.9H727.5ZM730.5 605.8H732.5V609.2H730.5ZM734.5 605.5H736.5V606.5H734.5ZM736.5 605.6H738.5V606.6H736.5ZM737.5 605.9H739.5V607.8H737.5ZM739.5 607.3H741.5V613.5H739.5ZM740.5 613.6H742.5V614.6H740.5ZM748.5 580.5H750.5V588.4H748.5ZM752.5 571.4H754.5V575.5H752.5ZM754.5 576.5H756.5V590.5H754.5ZM757.5 588.8H759.5V590.1H757.5ZM761.5 580H763.5V582.3H761.5ZM764.5 572H766.5V576.9H764.5ZM769.5 575.4H771.5V579.5H769.5ZM772.5 577.4H774.5V579.3H772.5ZM779.5 535.5H781.5V540.7H779.5ZM782.5 524.9H784.5V532.4H782.5ZM784.5 523.5H786.5V524.9H784.5ZM787.5 524.3H789.5V526.2H787.5ZM790.5 517.1H792.5V526H790.5ZM791.5 526.2H793.5V527.2H791.5ZM800.5 498.3H802.5V500.2H800.5ZM806.5 476.1H808.5V485H806.5ZM809.5 465.9H811.5V469.2H809.5ZM811.5 468.4H813.5V472.8H811.5ZM812.5 471.4H814.5V475.1H812.5ZM820.5 459.3H822.5V466.6H820.5ZM824.5 462.5H826.5V466.7H824.5ZM826.5 466.5H828.5V467.5H826.5ZM829.5 455.3H831.5V458.5H829.5ZM833.5 439.3H835.5V440.7H833.5ZM835.5 440.4H837.5V453.3H835.5ZM836.5 453.5H838.5V454.5H836.5ZM838.5 453.4H840.5V470.5H838.5ZM842.5 473.1H844.5V519.5H842.5ZM848.5 495.7H850.5V496.7H848.5ZM850.5 496.3H852.5V514.1H850.5ZM851.5 515.9H853.5V522.7H851.5ZM853.5 523H855.5V526.5H853.5ZM854.5 527H856.5V541.8H854.5ZM856.5 543.6H858.5V544.6H856.5ZM857.5 544.1H859.5V554H857.5ZM863.5 522.1H865.5V529.9H863.5ZM865.5 529.3H867.5V534H865.5ZM868.5 528.2H870.5V544.2H868.5ZM871.5 529.1H873.5V551.4H871.5ZM877.5 498H879.5V505.3H877.5ZM878.5 505.6H880.5V506.6H878.5ZM884.5 469.3H886.5V470.5H884.5ZM887.5 466.9H889.5V478.7H887.5ZM892.5 461.5H894.5V467.4H892.5ZM893.5 460.7H895.5V463.5H893.5ZM899.5 439.7H901.5V455.1H899.5ZM901.5 455.3H903.5V459.4H901.5ZM902.5 459.1H904.5V464.5H902.5ZM904.5 465.1H906.5V466.1H904.5ZM907.5 465.6H909.5V468.5H907.5ZM908.5 470.3H910.5V471.3H908.5ZM911.5 471H913.5V476.9H911.5ZM914.5 463H916.5V473.4H914.5ZM922.5 424.9H924.5V425.9H922.5ZM925.5 420.7H927.5V447.2H925.5ZM926.5 445.7H928.5V446.7H926.5ZM929.5 429.4H931.5V438.6H929.5ZM934.5 431.6H936.5V438.6H934.5ZM935.5 437H937.5V440.9H935.5ZM941.5 401.7H943.5V409.5H941.5ZM944.5 403.1H946.5V413.2H944.5ZM946.5 414.2H948.5V429.6H946.5ZM947.5 426.7H949.5V438.2H947.5ZM950.5 430.6H952.5V434.3H950.5ZM952.5 437.1H954.5V443.5H952.5ZM958.5 410.7H960.5V412.2H958.5ZM965.5 381.1H967.5V397.9H965.5ZM968.5 371.5H970.5V388.3H968.5ZM971.5 374.1H973.5V377.4H971.5ZM973.5 375H975.5V381.7H973.5ZM976.5 380H978.5V384.7H976.5ZM979.5 372.6H981.5V383.5H979.5ZM986.5 357.3H988.5V381.2H986.5ZM988.5 382H990.5V407.6H988.5ZM989.5 409.2H991.5V416.4H989.5ZM991.5 415H993.5V416H991.5ZM998.5 350.8H1000.5V354.5H998.5ZM1000.5 352.9H1002.5V360.5H1000.5ZM1006.5 342H1008.5V347.1H1006.5ZM1007.5 348H1009.5V366.6H1007.5ZM1010.5 359.2H1012.5V365.5H1010.5ZM1012.5 366H1014.5V368.4H1012.5ZM1015.5 361.3H1017.5V366.4H1015.5ZM1016.5 366.3H1018.5V381.8H1016.5ZM1018.5 384.7H1020.5V391.7H1018.5ZM1019.5 390.4H1021.5V414.5H1019.5ZM1022.5 412.6H1024.5V420.6H1022.5ZM1024.5 419.1H1026.5V422.3H1024.5ZM1027.5 390.7H1029.5V394.4H1027.5ZM1033.5 365.3H1035.5V376.5H1033.5ZM1036.5 366.8H1038.5V379.7H1036.5ZM1043.5 333.1H1045.5V351.7H1043.5ZM1051.5 298.9H1053.5V324.7H1051.5ZM1055.5 288.6H1057.5V297.8H1055.5ZM1058.5 277.6H1060.5V281.3H1058.5ZM1061.5 268.5H1063.5V282.7H1061.5ZM1064.5 274.6H1066.5V287.2H1064.5ZM1069.5 271.1H1071.5V304.5H1069.5ZM1070.5 304.6H1072.5V313.3H1070.5ZM1076.5 285.5H1078.5V296.1H1076.5ZM1082.5 277.7H1084.5V282.9H1082.5ZM1085.5 265.3H1087.5V278.7H1085.5ZM1088.5 267.7H1090.5V268.7H1088.5ZM1093.5 230.7H1095.5V260.8H1093.5ZM1096.5 209.5H1098.5V246.4H1096.5ZM1100.5 217.3H1102.5V224.5H1100.5ZM1105.5 206H1107.5V223.2H1105.5ZM1111.5 194H1113.5V218.8H1111.5ZM1118.5 215.6H1120.5V264.8H1118.5ZM1121.5 228.8H1123.5V230.6H1121.5ZM1123.5 249.3H1125.5V259.9H1123.5ZM1126.5 252.8H1128.5V261H1126.5ZM1130.5 242.2H1132.5V248.1H1130.5ZM1132.5 247.3H1134.5V251.5H1132.5ZM1138.5 209.9H1140.5V218.7H1138.5ZM1141.5 209.7H1143.5V222H1141.5ZM1144.5 227H1146.5V250.3H1144.5ZM1147.5 237.1H1149.5V248.1H1147.5ZM1150.5 215.5H1152.5V242H1150.5ZM1151.5 240.3H1153.5V244.1H1151.5ZM1154.5 204.3H1156.5V225.1H1154.5ZM1159.5 219.5H1161.5V232.4H1159.5ZM1160.5 231H1162.5V252.9H1160.5ZM1162.5 250.2H1164.5V251.2H1162.5ZM1165.5 245.1H1167.5V248.7H1165.5ZM1168.5 244.6H1170.5V270.4H1168.5ZM1169.5 271.4H1171.5V291.9H1169.5ZM1171.5 287.8H1173.5V297.3H1171.5ZM1174.5 296.7H1176.5V300.8H1174.5ZM1178.5 272H1180.5V284.1H1178.5ZM1180.5 282.3H1182.5V287.6H1180.5ZM1181.5 287.2H1183.5V303.6H1181.5ZM1183.5 303.1H1185.5V326.5H1183.5ZM1186.5 319.5H1188.5V339.2H1186.5ZM1189.5 318.2H1191.5V336.4H1189.5ZM1195.5 298.5H1197.5V299.5H1195.5ZM1201.5 238.3H1203.5V246.5H1201.5ZM1204.5 225.5H1206.5V238.8H1204.5ZM1208.5 194.3H1210.5V206.4H1208.5ZM1211.5 195.6H1213.5V205H1211.5ZM1214.5 197.7H1216.5V222.8H1214.5ZM1225.5 176.5H1227.5V189.8H1225.5ZM1232.5 179.8H1234.5V182H1232.5ZM1240.5 112.5H1242.5V114.3H1240.5ZM1241.5 112.9H1243.5V122.8H1241.5ZM1243.5 122.6H1245.5V135.5H1243.5ZM1246.5 120.9H1248.5V121.9H1246.5ZM1247.5 120.5H1249.5V135.3H1247.5ZM1253.5 89.6H1255.5V99.2H1253.5ZM1256.5 94.1H1258.5V106.8H1256.5ZM1259.5 89.7H1261.5V116.3H1259.5ZM1262.5 112.4H1264.5V117.3H1262.5ZM1267.5 109H1269.5V110.1H1267.5Z" stroke="#000" stroke-width="1" fill="#000"/>
</g>
<path d="M0 771.3C4.8 770.8 19.3 769.9 29 768C38.7 766.1 46.8 763.4 58 760C69.2 756.6 84.8 752.4 96 747.7C107.2 743 115.3 737.8 125 731.7C134.7 725.6 143.8 717.6 154 711C164.2 704.4 175.8 698.5 186 692C196.2 685.5 205.8 678.7 215 672C224.2 665.3 233.7 658.5 241.5 651.7C249.3 644.9 255.8 638.3 262 631C268.2 623.7 273.3 614.4 279 608C284.7 601.6 291.1 597 296.4 592.5C301.7 588 306.1 584.6 311 581C315.9 577.4 320.2 573.1 325.5 570.6C330.8 568.1 337.2 567.7 343 566C348.8 564.3 354.4 560.7 360.4 560.4C366.4 560.1 373 561.9 379 564C385 566.1 390.8 569.4 396.6 572.8C402.4 576.2 408.2 581.5 414 584.4C419.8 587.3 425.7 588.5 431.5 590C437.3 591.5 442.2 593.2 449 593.7C455.8 594.2 464.2 593.6 472 593C479.8 592.4 488.7 591 495.5 590C502.3 589 506.2 587.4 513 587.3C519.8 587.2 528.2 589.3 536 589.3C543.8 589.3 551.7 588.3 559.5 587.3C567.3 586.2 575.2 584.7 583 583C590.8 581.3 598.3 576.8 606 577C613.7 577.2 623.1 582.7 629.4 584.4C635.7 586.1 638.8 586.8 644 587.3C649.2 587.8 654.3 586.7 660.4 587.3C666.5 587.9 671.5 589.6 680.7 591C689.9 592.4 705.5 594.5 715.7 595.5C725.9 596.5 734.1 596.9 741.9 596.7C749.6 596.6 755.4 595.9 762.2 594.6C769 593.3 775.8 591.5 782.6 588.8C789.4 586.1 796.7 582.2 803 578.6C809.3 575 814.6 571 820.4 567C826.2 563 833 557.1 837.9 554.5C842.8 551.9 842.7 552.5 849.5 551.5C856.3 550.5 871.3 550.4 878.6 548.6C885.9 546.8 887.4 544.1 893.2 540.8C899 537.5 907.3 532.6 913.6 529C919.9 525.4 924.5 522.7 931 519C937.5 515.3 944.3 512 952.8 506.8C961.3 501.6 972.2 494.9 981.9 487.9C991.6 480.9 1001.8 470.2 1011 464.6C1020.2 459 1029.7 458.8 1037 454.4C1044.3 450 1047.8 444.5 1054.6 438.4C1061.4 432.3 1071.1 424.3 1077.9 418C1084.7 411.7 1089.6 406.9 1095.4 400.6C1101.2 394.3 1106 387 1112.8 380.2C1119.6 373.4 1129 365.9 1136 359.8C1143 353.7 1148.4 347.9 1155 343.5C1161.6 339.1 1169.2 335.6 1175.5 333.4C1181.8 331.2 1187.2 332.6 1193 330.4C1198.8 328.2 1203.6 325.4 1210.4 320.3C1217.2 315.2 1226.9 306.4 1233.7 299.9C1240.5 293.3 1245.3 286.9 1251 281C1256.7 275.1 1264.8 267.2 1267.6 264.5" stroke="#ff0000" stroke-width="3.9" fill="none" stroke-linejoin="round" stroke-linecap="butt" shape-rendering="crispEdges"/>
<ellipse cx="864.5" cy="558.5" rx="26.5" ry="18.5" fill="rgba(0,128,0,0.23)"/>
<ellipse cx="1023.2" cy="464.8" rx="19.5" ry="19.7" fill="rgba(0,128,0,0.23)"/>
<ellipse cx="1190.3" cy="331.8" rx="21.3" ry="18.6" fill="rgba(0,128,0,0.23)"/>
</g>
<g font-family="'Liberation Sans', sans-serif" fill="#000">
<text x="1285.4" y="79.1" font-size="16" textLength="199.6" lengthAdjust="spacing" stroke="#000" stroke-width="0.25">OBJETIVO CUMPLIDO???</text>
<text x="1290.3" y="709.7" font-size="16" textLength="276.5" lengthAdjust="spacing" stroke="#000" stroke-width="0.3">WWW.INVERTIRYESPECULAR.COM</text>
</g>
<rect x="0" y="745.3" width="45.7" height="16.4" fill="#3f8fe5"/>
<text x="2.8" y="757.6" font-family="'Liberation Sans', sans-serif" font-size="11" fill="#040818" textLength="40.2" lengthAdjust="spacingAndGlyphs">órdenes</text>
<g font-family="'Liberation Sans', sans-serif" font-size="11.2">
<text x="1" y="17" fill="#000000" textLength="32.5" lengthAdjust="spacingAndGlyphs">VINCI -</text>
<text x="41.7" y="17" fill="#000000" textLength="14.3" lengthAdjust="spacingAndGlyphs">1 S</text>
<text x="61.5" y="17" fill="#000000" textLength="32.5" lengthAdjust="spacingAndGlyphs">Dif. %:</text>
<text x="97.2" y="17" fill="#4a90e2" textLength="20.3" lengthAdjust="spacingAndGlyphs">0,51</text>
<text x="123.5" y="17" fill="#000000" textLength="19.8" lengthAdjust="spacingAndGlyphs">Dif.:</text>
<text x="147.4" y="17" fill="#4a90e2" textLength="21" lengthAdjust="spacingAndGlyphs">0,50</text>
<text x="173.5" y="17" fill="#000000" textLength="42.5" lengthAdjust="spacingAndGlyphs">M: 99,48</text>
<text x="221.8" y="17" fill="#000000" textLength="41" lengthAdjust="spacingAndGlyphs">m: 98,42</text>
<text x="268.8" y="17" fill="#000000" textLength="67" lengthAdjust="spacingAndGlyphs">F: 10-01-2020</text>
<text x="341.5" y="17" fill="#ff2020" textLength="41.5" lengthAdjust="spacingAndGlyphs">P : 41,90</text>
</g>
<g shape-rendering="crispEdges">
<rect x="1843" y="8" width="11" height="10" fill="#fdfdfd"/>
<rect x="1855" y="8" width="11" height="10" fill="#fdfdfd"/>
<rect x="1868" y="8" width="4" height="10" fill="#fdfdfd"/>
<rect x="1845" y="16" width="8" height="1" fill="#3a3a3a"/>
<rect x="1857.5" y="11.5" width="7" height="5" fill="none" stroke="#3a3a3a" stroke-width="1"/>
<rect x="1857" y="10" width="8" height="2" fill="#3a3a3a"/>
</g>
<path d="M1869.5 10.5L1873 14M1869.5 16.5L1873 13" stroke="#3a3a3a" stroke-width="1.3" fill="none"/>
<rect x="1803" y="21" width="69" height="763" fill="#f2f4f7"/>
<g shape-rendering="crispEdges">
<rect x="1802" y="20" width="70" height="1" fill="#444"/>
<rect x="1802" y="20" width="1" height="765" fill="#444"/>
<rect x="1803" y="31" width="6" height="1" fill="#3c3c3c"/><rect x="1803" y="44" width="3" height="1" fill="#3c3c3c"/><rect x="1803" y="57" width="3" height="1" fill="#3c3c3c"/><rect x="1803" y="70" width="3" height="1" fill="#3c3c3c"/><rect x="1803" y="83" width="3" height="1" fill="#3c3c3c"/><rect x="1803" y="96" width="3" height="1" fill="#3c3c3c"/><rect x="1803" y="109" width="6" height="1" fill="#3c3c3c"/><rect x="1803" y="121" width="3" height="1" fill="#3c3c3c"/><rect x="1803" y="133" width="3" height="1" fill="#3c3c3c"/><rect x="1803" y="145" width="3" height="1" fill="#3c3c3c"/><rect x="1803" y="157" width="3" height="1" fill="#3c3c3c"/><rect x="1803" y="169" width="3" height="1" fill="#3c3c3c"/><rect x="1803" y="186" width="6" height="1" fill="#3c3c3c"/><rect x="1803" y="198" width="3" height="1" fill="#3c3c3c"/><rect x="1803" y="210" width="3" height="1" fill="#3c3c3c"/><rect x="1803" y="222" width="3" height="1" fill="#3c3c3c"/><rect x="1803" y="234" width="3" height="1" fill="#3c3c3c"/><rect x="1803" y="246" width="3" height="1" fill="#3c3c3c"/><rect x="1803" y="263" width="6" height="1" fill="#3c3c3c"/><rect x="1803" y="275" width="3" height="1" fill="#3c3c3c"/><rect x="1803" y="287" width="3" height="1" fill="#3c3c3c"/><rect x="1803" y="299" width="3" height="1" fill="#3c3c3c"/><rect x="1803" y="311" width="3" height="1" fill="#3c3c3c"/><rect x="1803" y="323" width="3" height="1" fill="#3c3c3c"/><rect x="1803" y="340" width="6" height="1" fill="#3c3c3c"/><rect x="1803" y="352" width="3" height="1" fill="#3c3c3c"/><rect x="1803" y="364" width="3" height="1" fill="#3c3c3c"/><rect x="1803" y="376" width="3" height="1" fill="#3c3c3c"/><rect x="1803" y="388" width="3" height="1" fill="#3c3c3c"/><rect x="1803" y="400" width="3" height="1" fill="#3c3c3c"/><rect x="1803" y="417" width="6" height="1" fill="#3c3c3c"/><rect x="1803" y="429" width="3" height="1" fill="#3c3c3c"/><rect x="1803" y="441" width="3" height="1" fill="#3c3c3c"/><rect x="1803" y="453" width="3" height="1" fill="#3c3c3c"/><rect x="1803" y="465" width="3" height="1" fill="#3c3c3c"/><rect x="1803" y="477" width="3" height="1" fill="#3c3c3c"/><rect x="1803" y="494" width="6" height="1" fill="#3c3c3c"/><rect x="1803" y="507" width="3" height="1" fill="#3c3c3c"/><rect x="1803" y="520" width="3" height="1" fill="#3c3c3c"/><rect x="1803" y="533" width="3" height="1" fill="#3c3c3c"/><rect x="1803" y="546" width="3" height="1" fill="#3c3c3c"/><rect x="1803" y="559" width="3" height="1" fill="#3c3c3c"/><rect x="1803" y="572" width="6" height="1" fill="#3c3c3c"/><rect x="1803" y="584" width="3" height="1" fill="#3c3c3c"/><rect x="1803" y="596" width="3" height="1" fill="#3c3c3c"/><rect x="1803" y="608" width="3" height="1" fill="#3c3c3c"/><rect x="1803" y="620" width="3" height="1" fill="#3c3c3c"/><rect x="1803" y="632" width="3" height="1" fill="#3c3c3c"/><rect x="1803" y="649" width="6" height="1" fill="#3c3c3c"/><rect x="1803" y="661" width="3" height="1" fill="#3c3c3c"/><rect x="1803" y="673" width="3" height="1" fill="#3c3c3c"/><rect x="1803" y="685" width="3" height="1" fill="#3c3c3c"/><rect x="1803" y="697" width="3" height="1" fill="#3c3c3c"/><rect x="1803" y="709" width="3" height="1" fill="#3c3c3c"/><rect x="1803" y="726" width="6" height="1" fill="#3c3c3c"/><rect x="1803" y="738" width="3" height="1" fill="#3c3c3c"/><rect x="1803" y="750" width="3" height="1" fill="#3c3c3c"/><rect x="1803" y="762" width="3" height="1" fill="#3c3c3c"/><rect x="1803" y="774" width="3" height="1" fill="#3c3c3c"/>
</g>
<g font-family="'Liberation Sans', sans-serif" font-size="14.6" fill="#222">
<text x="1814" y="36.9" textLength="23.2" lengthAdjust="spacingAndGlyphs">110</text>
<text x="1814" y="191.9" textLength="15.4" lengthAdjust="spacingAndGlyphs">90</text>
<text x="1814" y="345.9" textLength="15.4" lengthAdjust="spacingAndGlyphs">70</text>
<text x="1814" y="422.9" textLength="15.4" lengthAdjust="spacingAndGlyphs">60</text>
<text x="1814" y="499.9" textLength="15.4" lengthAdjust="spacingAndGlyphs">50</text>
<text x="1814" y="577.9" textLength="15.4" lengthAdjust="spacingAndGlyphs">40</text>
<text x="1814" y="654.9" textLength="15.4" lengthAdjust="spacingAndGlyphs">30</text>
<text x="1814" y="731.9" textLength="15.4" lengthAdjust="spacingAndGlyphs">20</text>
</g>
<rect x="1812" y="101" width="41" height="25" fill="#3f8fe5" shape-rendering="crispEdges"/>
<text x="1814.8" y="120.6" font-family="'Liberation Sans', sans-serif" font-size="14.6" fill="#fff" textLength="34" lengthAdjust="spacingAndGlyphs">99,42</text>
<path d="M1804.5 113.5H1811M1807.8 110.2L1804.5 113.5L1807.8 116.8" stroke="#333" stroke-width="1" fill="none"/>
<rect x="1812" y="251" width="41" height="25" fill="#3f8fe5" shape-rendering="crispEdges"/>
<text x="1814.8" y="270.6" font-family="'Liberation Sans', sans-serif" font-size="14.6" fill="#fff" textLength="34" lengthAdjust="spacingAndGlyphs">79,97</text>
<path d="M1804.5 263.5H1811M1807.8 260.2L1804.5 263.5L1807.8 266.8" stroke="#333" stroke-width="1" fill="none"/>
<rect x="1861.5" y="23.5" width="12" height="20" fill="#fff" stroke="#b5b5b5" stroke-width="1"/>
<path d="M1866 27V39H1870M1866 27H1869M1866 31H1869M1866 35H1869" stroke="#b0b0b0" stroke-width="1" fill="none"/>
<rect x="0" y="785" width="1872" height="19" fill="#f0f0f0"/>
<g shape-rendering="crispEdges">
<rect x="0" y="784" width="1872" height="1" fill="#444"/>
<rect x="14" y="785" width="1" height="9" fill="#3c3c3c"/><rect x="94" y="785" width="1" height="9" fill="#3c3c3c"/><rect x="172" y="785" width="1" height="9" fill="#3c3c3c"/><rect x="250" y="785" width="1" height="9" fill="#3c3c3c"/><rect x="327" y="785" width="1" height="9" fill="#3c3c3c"/><rect x="405" y="785" width="1" height="9" fill="#3c3c3c"/><rect x="483" y="785" width="1" height="9" fill="#3c3c3c"/><rect x="483" y="775" width="1" height="9" fill="#3c3c3c"/><rect x="563" y="785" width="1" height="9" fill="#3c3c3c"/><rect x="641" y="785" width="1" height="9" fill="#3c3c3c"/><rect x="719" y="785" width="1" height="9" fill="#3c3c3c"/><rect x="797" y="785" width="1" height="9" fill="#3c3c3c"/><rect x="875" y="785" width="1" height="9" fill="#3c3c3c"/><rect x="952" y="785" width="1" height="9" fill="#3c3c3c"/><rect x="1032" y="785" width="1" height="9" fill="#3c3c3c"/><rect x="1110" y="785" width="1" height="9" fill="#3c3c3c"/><rect x="1188" y="785" width="1" height="9" fill="#3c3c3c"/><rect x="1266" y="785" width="1" height="9" fill="#3c3c3c"/><rect x="1266" y="775" width="1" height="9" fill="#3c3c3c"/><rect x="1344" y="785" width="1" height="9" fill="#3c3c3c"/><rect x="1423" y="785" width="1" height="9" fill="#3c3c3c"/><rect x="1501" y="785" width="1" height="9" fill="#3c3c3c"/><rect x="1579" y="785" width="1" height="9" fill="#3c3c3c"/><rect x="1657" y="785" width="1" height="9" fill="#3c3c3c"/><rect x="1735" y="785" width="1" height="9" fill="#3c3c3c"/>
</g>
<g font-family="'Liberation Sans', sans-serif" font-size="11.4" fill="#222">
<text x="16.3" y="800.8" textLength="24" lengthAdjust="spacingAndGlyphs">2004</text>
<text x="96.3" y="800.8" textLength="24" lengthAdjust="spacingAndGlyphs">2005</text>
<text x="174.3" y="800.8" textLength="24" lengthAdjust="spacingAndGlyphs">2006</text>
<text x="252.3" y="800.8" textLength="24" lengthAdjust="spacingAndGlyphs">2007</text>
<text x="329.3" y="800.8" textLength="24" lengthAdjust="spacingAndGlyphs">2008</text>
<text x="407.3" y="800.8" textLength="24" lengthAdjust="spacingAndGlyphs">2009</text>
<text x="485.3" y="800.8" textLength="24" lengthAdjust="spacingAndGlyphs">2010</text>
<text x="485.3" y="779.6" textLength="24" lengthAdjust="spacingAndGlyphs">2010</text>
<text x="565.3" y="800.8" textLength="24" lengthAdjust="spacingAndGlyphs">2011</text>
<text x="643.3" y="800.8" textLength="24" lengthAdjust="spacingAndGlyphs">2012</text>
<text x="721.3" y="800.8" textLength="24" lengthAdjust="spacingAndGlyphs">2013</text>
<text x="799.3" y="800.8" textLength="24" lengthAdjust="spacingAndGlyphs">2014</text>
<text x="877.3" y="800.8" textLength="24" lengthAdjust="spacingAndGlyphs">2015</text>
<text x="954.3" y="800.8" textLength="24" lengthAdjust="spacingAndGlyphs">2016</text>
<text x="1034.3" y="800.8" textLength="24" lengthAdjust="spacingAndGlyphs">2017</text>
<text x="1112.3" y="800.8" textLength="24" lengthAdjust="spacingAndGlyphs">2018</text>
<text x="1190.3" y="800.8" textLength="24" lengthAdjust="spacingAndGlyphs">2019</text>
<text x="1268.3" y="800.8" textLength="24" lengthAdjust="spacingAndGlyphs">2020</text>
<text x="1268.3" y="779.6" textLength="24" lengthAdjust="spacingAndGlyphs">2020</text>
<text x="1346.3" y="800.8" textLength="24" lengthAdjust="spacingAndGlyphs">2021</text>
<text x="1425.3" y="800.8" textLength="24" lengthAdjust="spacingAndGlyphs">2022</text>
<text x="1503.3" y="800.8" textLength="24" lengthAdjust="spacingAndGlyphs">2023</text>
<text x="1581.3" y="800.8" textLength="24" lengthAdjust="spacingAndGlyphs">2024</text>
<text x="1659.3" y="800.8" textLength="24" lengthAdjust="spacingAndGlyphs">2025</text>
<text x="1737.3" y="800.8" textLength="24" lengthAdjust="spacingAndGlyphs">2026</text>
</g>
<g>
<rect x="1803.5" y="786.5" width="17" height="16" fill="#fff" stroke="#9a9a9a" stroke-width="1"/>
<rect x="1825.5" y="786.5" width="35" height="16" fill="#fff" stroke="#9a9a9a" stroke-width="1"/>
<rect x="1865.5" y="786.5" width="10" height="16" fill="#fff" stroke="#9a9a9a" stroke-width="1"/>
<rect x="1868" y="789.2" width="6" height="10.4" fill="#000"/>
<path d="M1808 792L1810.4 789.6L1814.4 794L1817.6 790.5" stroke="#8a8a8a" stroke-width="1.2" fill="none"/>
<path d="M1808 795L1810.4 792.6L1814.4 797.3L1817.8 793.7" stroke="#3a9ad9" stroke-width="1.5" fill="none"/>
<rect x="1830" y="788" width="11.8" height="12" fill="#8245c4"/>
<rect x="1832.2" y="788.4" width="7.7" height="5.6" fill="#fff"/>
<rect x="1833" y="796" width="6" height="3.6" fill="#fff"/>
<rect x="1834" y="797" width="1" height="1" fill="#8245c4"/>
<path d="M1849 794.5H1853M1852.5 791.3V798M1853 792.5H1856.5V796.5H1853" stroke="#333" stroke-width="1" fill="none"/>
</g>
</svg>
</body></html>
